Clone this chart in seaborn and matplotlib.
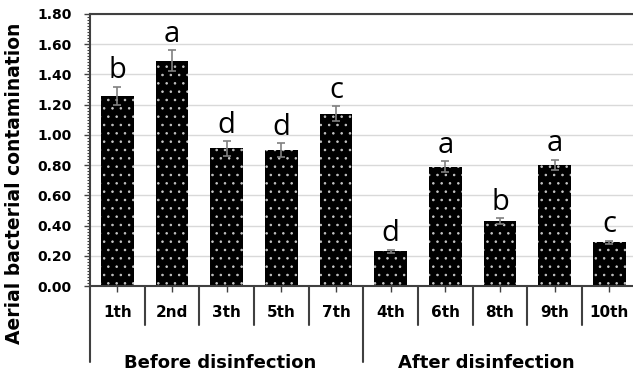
import numpy as np
import pandas as pd
import seaborn as sns
import matplotlib.pyplot as plt
from matplotlib.ticker import MultipleLocator

# values
sessions = ["1th", "2nd", "3th", "5th", "7th", "4th", "6th", "8th", "9th", "10th"]
contamination = [1.26, 1.49, 0.91, 0.90, 1.14, 0.23, 0.79, 0.43, 0.80, 0.29]
std_err = [0.06, 0.07, 0.05, 0.045, 0.05, 0.01, 0.035, 0.02, 0.035, 0.01]
letters = ["b", "a", "d", "d", "c", "d", "a", "b", "a", "c"]
groups = ["Before disinfection", "After disinfection"]

df = pd.DataFrame({"session": sessions, "value": contamination})

sns.set_style("white")
plt.rcParams["font.family"] = ["DejaVu Sans"]
plt.rcParams["text.color"] = "black"
plt.rcParams["hatch.linewidth"] = 0.6

fig = plt.figure(figsize=(6.33, 3.76), dpi=100)
ax = fig.add_axes([90 / 633, 90 / 376, 546.6 / 633, 272 / 376])

sns.barplot(data=df, x="session", y="value", color="black", width=0.6,
            errorbar=None, saturation=1, ax=ax)
for p in ax.patches:
    p.set_hatch("..")
    p.set_edgecolor("#c8c8c8")
    p.set_linewidth(0)

x = np.arange(len(sessions))
ax.errorbar(x, contamination, yerr=std_err, fmt="none", ecolor="#808080",
            elinewidth=1.2, capsize=3, capthick=1.2, zorder=3)

for i, (v, e, l) in enumerate(zip(contamination, std_err, letters)):
    ax.annotate(l, (i, v + e), xytext=(0, 6), textcoords="offset points",
                ha="center", va="baseline", fontsize=21,
                family=["Open Sans", "DejaVu Sans"], color="black")

ax.set_xlim(-0.5, 9.5)
ax.set_ylim(0, 1.8)
ax.set_yticks(np.arange(0, 1.81, 0.2))
ax.set_yticklabels([f"{t:.2f}" for t in np.arange(0, 1.81, 0.2)],
                   fontweight="bold", fontsize=10)
ax.yaxis.set_minor_locator(MultipleLocator(0.02))
ax.set_xticks(x)
ax.set_xticklabels(sessions, fontweight="bold", fontsize=11)
ax.set_xlabel("")
ax.set_ylabel("")

ax.tick_params(axis="y", which="major", left=True, length=4, width=1,
               color="#404040", pad=9, labelcolor="black")
ax.tick_params(axis="y", which="minor", left=True, length=2.2, width=0.8,
               color="#404040")
ax.tick_params(axis="x", bottom=True, length=4, width=1, color="#404040",
               pad=10, labelcolor="black")

ax.yaxis.grid(True, color="#d9d9d9", lw=1)
ax.set_axisbelow(True)
for side in ["left", "top", "bottom"]:
    ax.spines[side].set_visible(True)
    ax.spines[side].set_color("#404040")
    ax.spines[side].set_linewidth(1.5)
ax.spines["right"].set_visible(False)

# category separators under the axis
trans = ax.get_xaxis_transform()
for b in np.arange(-0.5, 10, 1):
    end = -0.279 if b in (-0.5, 4.5, 9.5) else -0.143
    ax.plot([b, b], [0, end], transform=trans, clip_on=False,
            color="#404040", lw=1.5)

ax.text(1.88, -0.3015, groups[0], transform=trans, ha="center",
        va="baseline", fontsize=13, fontweight="bold", color="black")
ax.text(6.75, -0.3015, groups[1], transform=trans, ha="center",
        va="baseline", fontsize=13, fontweight="bold", color="black")

fig.text(15 / 633, 1 - 183.5 / 376, "Aerial bacterial contamination",
         rotation=90, ha="center", va="center", fontsize=13.5,
         fontweight="bold", color="black")

fig.savefig("out.png", dpi=100)
